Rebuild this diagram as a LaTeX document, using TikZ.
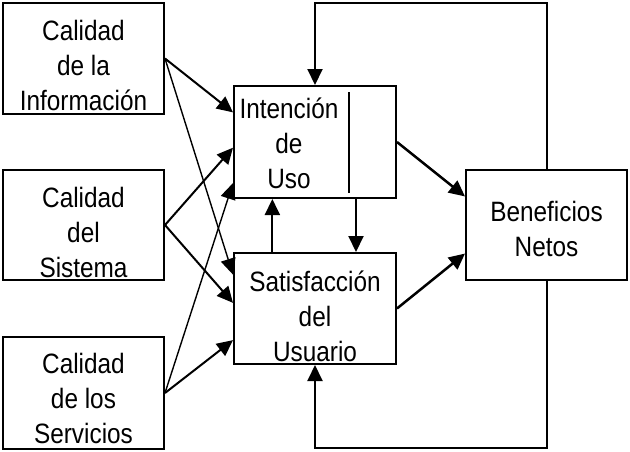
\documentclass[tikz,border=0pt]{standalone}
\usepackage{fontspec}
\setmainfont{Liberation Sans}
\newfontfamily\labfont[FakeStretch=0.87]{Liberation Sans}
\usetikzlibrary{arrows.meta,calc}
\begin{document}
\begin{tikzpicture}[x=1pt,y=-1pt,
  box/.style={draw,line width=2pt,rectangle,inner sep=0pt},
  lbl/.style={align=center,font=\labfont\fontsize{28}{35}\selectfont,inner sep=0pt},
  arr/.style={-{Triangle[length=16pt,width=15pt]},line width=2pt},
  thinarr/.style={arr,line width=1.4pt},
  thickarr/.style={arr,line width=2.5pt}]
\useasboundingbox (0,0) rectangle (630,451);
% boxes
\node[box,minimum width=161pt,minimum height=111pt] (info) at (83.5,58.5) {};
\node[box,minimum width=161pt,minimum height=110pt] (sist) at (83.5,225) {};
\node[box,minimum width=161pt,minimum height=112pt] (serv) at (83.5,393) {};
\node[box,minimum width=162pt,minimum height=112pt] (intn) at (315,142) {};
\node[box,minimum width=162pt,minimum height=111pt] (sat) at (315,308.5) {};
\node[box,minimum width=161pt,minimum height=110pt] (ben) at (546.5,225) {};
% labels
\node[lbl] (infot) at (83.5,65) {Calidad\\de la\\Información};
\node[lbl] (sistt) at (83.5,232) {Calidad\\del\\Sistema};
\node[lbl] (servt) at (83.5,398) {Calidad\\de los\\Servicios};
\node[lbl] (intnt) at (289,143.5) {Intención\\de\\Uso};
\node[lbl] (satt) at (315,316) {Satisfacción\\del\\Usuario};
\node[lbl] (bent) at (546.5,229) {Beneficios\\Netos};
% inner bar in Intencion box
\coordinate (vt) at (349,92);
\coordinate (vb) at (349,193);
\draw[line width=2pt] (vt) -- (vb);
% inputs
\draw[arr] (info.east) -- ($(intn.north west)!0.24!(intn.south west)$);
\draw[thinarr] (info.east) -- ($(sat.north west)!0.2!(sat.south west)$);
\draw[arr] (sist.east) -- ($(intn.north west)!0.55!(intn.south west)$);
\draw[arr] (sist.east) -- ($(sat.north west)!0.45!(sat.south west)$);
\draw[thinarr] (serv.east) -- ($(intn.north west)!0.86!(intn.south west)$);
\draw[arr] (serv.east) -- ($(sat.north west)!0.78!(sat.south west)$);
% between middle boxes
\draw[arr] ($(intn.south west)!0.75!(intn.south east)$) -- ($(sat.north west)!0.75!(sat.north east)$);
\draw[arr] ($(sat.north west)!0.24!(sat.north east)$) -- ($(intn.south west)!0.24!(intn.south east)$);
% to Beneficios
\draw[thickarr] (intn.east) -- ($(ben.north west)!0.245!(ben.south west)$);
\draw[thickarr] (sat.east) -- ($(ben.north west)!0.755!(ben.south west)$);
% feedback loops
\coordinate (tr) at (546.5,3);
\coordinate (br) at (546.5,448);
\draw[arr] (ben.north) -- (tr) -| (intn.north);
\draw[arr] (ben.south) -- (br) -| (sat.south);
\end{tikzpicture}
\end{document}
